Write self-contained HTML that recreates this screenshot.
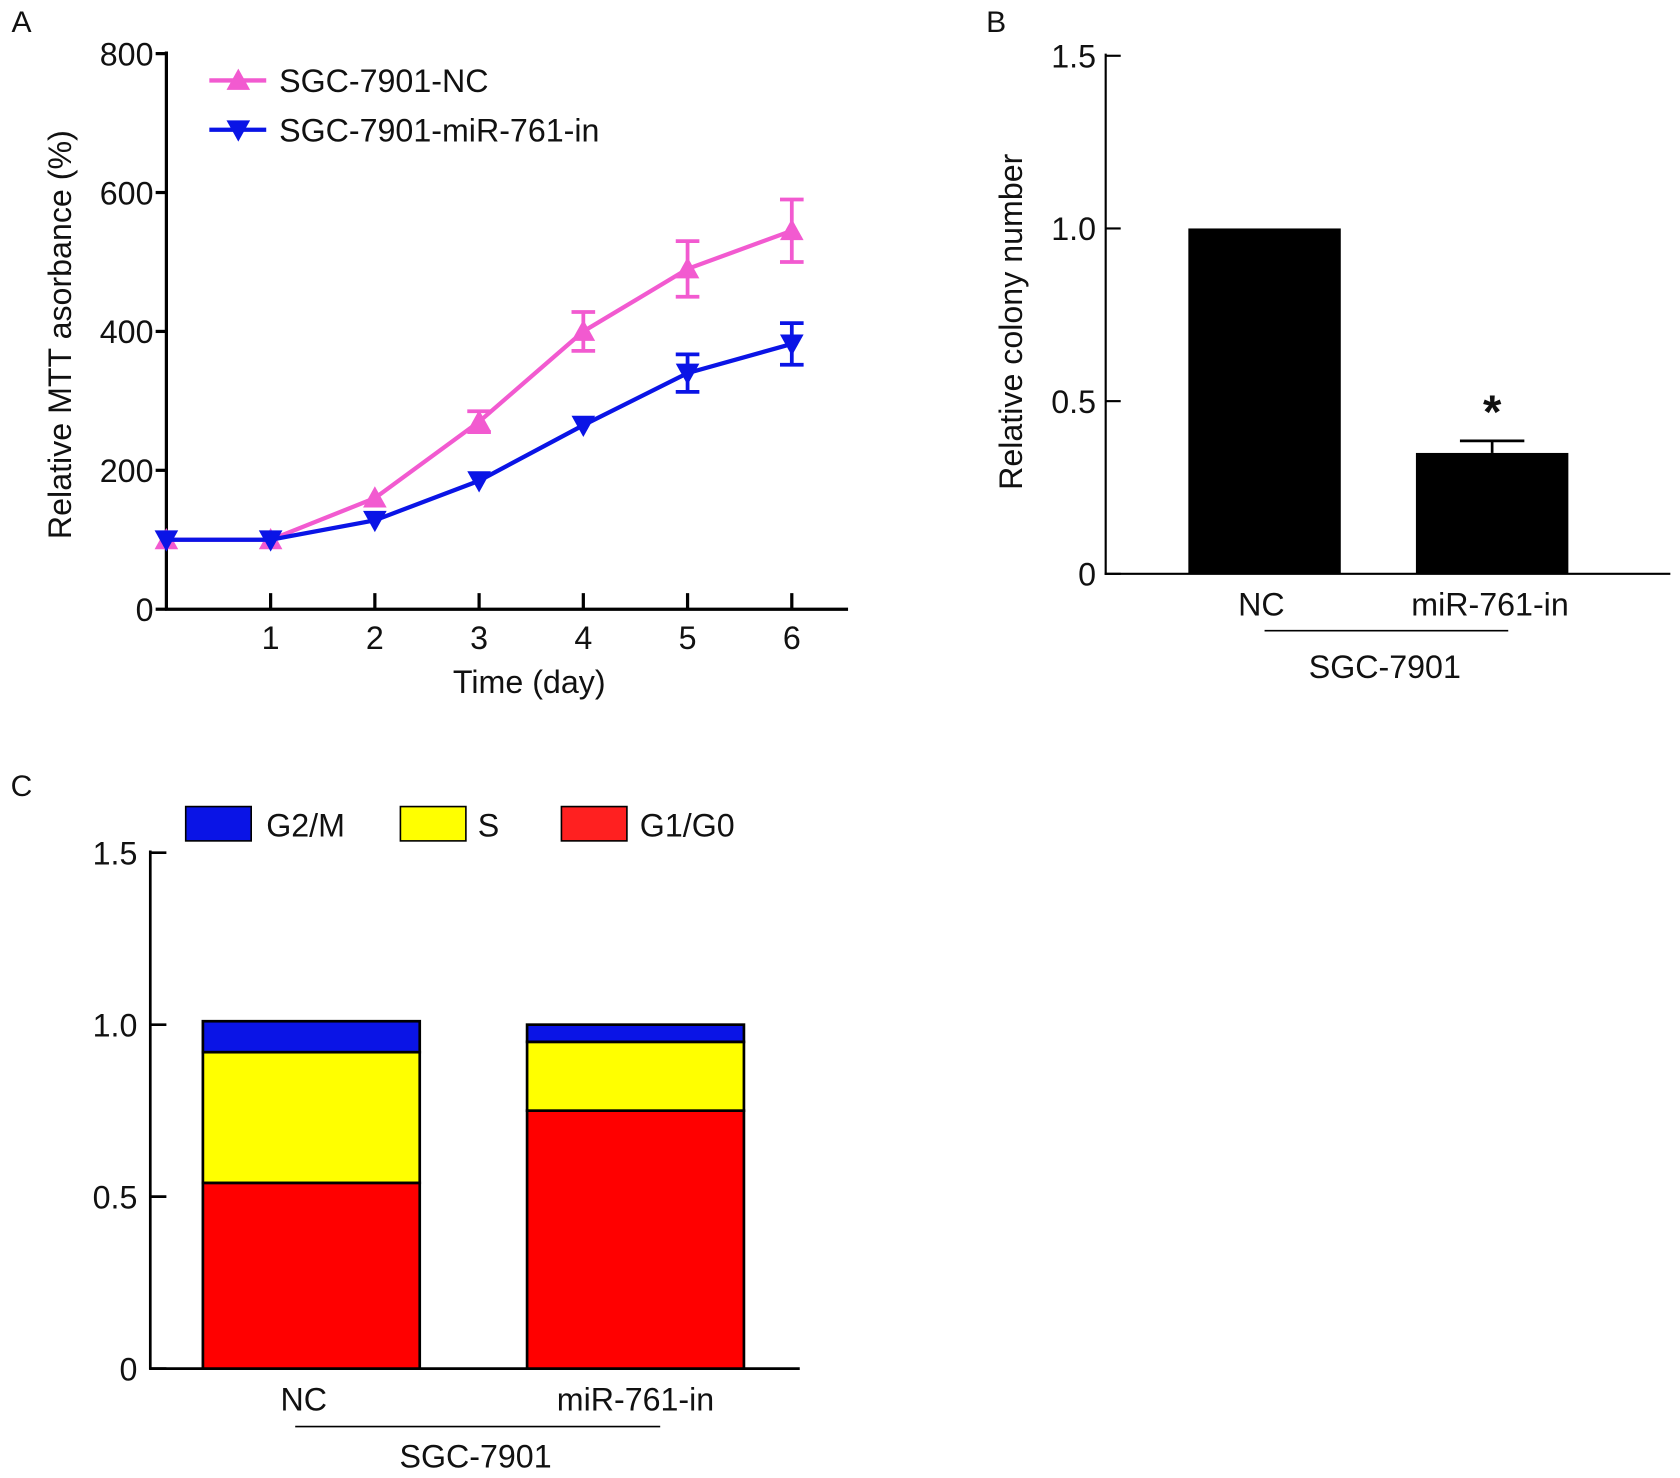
<!DOCTYPE html>
<html><head><meta charset="utf-8"><style>
html,body{margin:0;padding:0;background:#fff;}
svg{display:block;font-family:"Liberation Sans",Arial,sans-serif;}
</style></head><body>
<svg id="fig" width="1680" height="1478" viewBox="0 0 1565 1378" preserveAspectRatio="none" xmlns="http://www.w3.org/2000/svg"></svg>
<script>
// Panel A data
const days=[0,1,2,3,4,5,6];
const ncVals=[100,100,160,270,400,490,545];
const ncErr=[0,0,0,15,28,40,45];
const miVals=[100,100,128,185,265,340,382];
const miErr=[0,0,0,0,0,27,30];
const aYTicks=[0,200,400,600,800];
const aXTicks=[1,2,3,4,5,6];
// Panel B data
const bCats=["NC","miR-761-in"];
const bVals=[1.0,0.35];
const bErr=[0,0.035];
const bYTicks=[0,0.5,1.0,1.5];
const bTickLabels=["0","0.5","1.0","1.5"];
// Panel C data
const cCats=["NC","miR-761-in"];
const cG1=[0.54,0.75];
const cS=[0.38,0.20];
const cG2=[0.09,0.05];
const cYTicks=[0,0.5,1.0,1.5];

const FS=30;
const svg=document.getElementById('fig');
const NS="http://www.w3.org/2000/svg";
function mk(tag,attrs,parent){const e=document.createElementNS(NS,tag);for(const k in attrs)e.setAttribute(k,attrs[k]);(parent||svg).appendChild(e);return e;}
function txt(s,x,y,size,anchor,parent,rot){const t=mk('text',{x:x,y:y,'font-size':size,'text-anchor':anchor||'middle',fill:'#111'},parent);if(rot)t.setAttribute('transform','rotate(-90 '+x+' '+y+')');t.textContent=s;return t;}

// ---------- Panel A ----------
const gA=mk('g',{});


const ax=d=>155+d*97.1;
const ay=v=>568-v*(518/800);
const pl=txt('A',20,30,28,'middle',gA);
mk('line',{x1:155,y1:48,x2:155,y2:569,stroke:'#000','stroke-width':3},gA);
mk('line',{x1:154,y1:568,x2:790,y2:568,stroke:'#000','stroke-width':3},gA);
aYTicks.forEach(v=>{mk('line',{x1:145,y1:ay(v),x2:155,y2:ay(v),stroke:'#000','stroke-width':3},gA);
 const t=txt(String(v),143,ay(v)+11,FS,'end',gA);});
aXTicks.forEach(d=>{mk('line',{x1:ax(d),y1:553,x2:ax(d),y2:568,stroke:'#000','stroke-width':3},gA);
 const t=txt(String(d),ax(d),605,FS,'middle',gA);});
let t=txt('Time (day)',493,646,FS,'middle',gA);
t=txt('Relative MTT asorbance (%)',66,312,FS,'middle',gA,true);
function tri(x,y,up,col,parent){const s=11;const p=up?`${x},${y-s} ${x-s},${y+s*0.8} ${x+s},${y+s*0.8}`:`${x},${y+s} ${x-s},${y-s*0.8} ${x+s},${y-s*0.8}`;return mk('polygon',{points:p,fill:col},parent);}
function series(vals,err,col,up,name){
 const g=mk('g',{},gA);
 
 
 mk('polyline',{points:days.map((d,i)=>ax(d)+','+ay(vals[i])).join(' '),fill:'none',stroke:col,'stroke-width':4},g);
 days.forEach((d,i)=>{
  if(err[i]>0){const x=ax(d),y1=ay(vals[i]+err[i]),y2=ay(vals[i]-err[i]);
   mk('line',{x1:x,y1:y1,x2:x,y2:y2,stroke:col,'stroke-width':3.5},g);
   mk('line',{x1:x-11,y1:y1,x2:x+11,y2:y1,stroke:col,'stroke-width':3.5},g);
   mk('line',{x1:x-11,y1:y2,x2:x+11,y2:y2,stroke:col,'stroke-width':3.5},g);}
  const m=tri(ax(d),ay(vals[i]),up,col,g);
  
  
 });
}
series(ncVals,ncErr,'#f25ad0',true,'series-sgc-7901-nc');
series(miVals,miErr,'#0a14e6',false,'series-sgc-7901-mir-761-in');
let lg=mk('g',{},gA);
mk('line',{x1:195,y1:75,x2:248,y2:75,stroke:'#f25ad0','stroke-width':4},lg);tri(222,75,true,'#f25ad0',lg);txt('SGC-7901-NC',260,86,FS,'start',lg);
lg=mk('g',{},gA);
mk('line',{x1:195,y1:121,x2:248,y2:121,stroke:'#0a14e6','stroke-width':4},lg);tri(222,121,false,'#0a14e6',lg);txt('SGC-7901-miR-761-in',260,132,FS,'start',lg);

// ---------- Panel B ----------
const gB=mk('g',{});


const by=v=>535-v*(483/1.5);
const bx=[1178,1390];
t=txt('B',928,30,28,'middle',gB);
mk('line',{x1:1030,y1:50,x2:1030,y2:536,stroke:'#000','stroke-width':2},gB);
mk('line',{x1:1029,y1:535,x2:1556,y2:535,stroke:'#000','stroke-width':2},gB);
bYTicks.forEach((v,i)=>{mk('line',{x1:1030,y1:by(v),x2:1044,y2:by(v),stroke:'#000','stroke-width':2},gB);
 const tt=txt(bTickLabels[i],1021,by(v)+11,FS,'end',gB);});
bCats.forEach((c,i)=>{
 const r=mk('rect',{x:bx[i]-71,y:by(bVals[i]),width:142,height:by(0)-by(bVals[i]),fill:'#000'},gB);
 
 
 if(bErr[i]>0){const ye=by(bVals[i]+bErr[i]);mk('line',{x1:bx[i],y1:ye,x2:bx[i],y2:by(bVals[i]),stroke:'#000','stroke-width':2.5},gB);mk('line',{x1:bx[i]-30,y1:ye,x2:bx[i]+30,y2:ye,stroke:'#000','stroke-width':2.5},gB);
  const a=txt('*',bx[i],ye-12,44,'middle',gB);a.setAttribute('font-weight','bold');}
 const l=txt(c,i?1388:1175,574,FS,'middle',gB);
});
mk('line',{x1:1178,y1:588,x2:1405,y2:588,stroke:'#000','stroke-width':1.5},gB);
t=txt('SGC-7901',1290,632,FS,'middle',gB);
t=txt('Relative colony number',952,300,FS,'middle',gB,true);

// ---------- Panel C ----------
const gC=mk('g',{});


const cy=v=>1276-v*(481/1.5);
const cx=[290,592];
t=txt('C',20,742,28,'middle',gC);
mk('line',{x1:140,y1:793,x2:140,y2:1277,stroke:'#000','stroke-width':2.5},gC);
mk('line',{x1:139,y1:1276,x2:745,y2:1276,stroke:'#000','stroke-width':2.5},gC);
cYTicks.forEach(v=>{mk('line',{x1:140,y1:cy(v),x2:155,y2:cy(v),stroke:'#000','stroke-width':2.5},gC);
 const tt=txt(v===0?'0':v.toFixed(1),128,cy(v)+11,FS,'end',gC);});
cCats.forEach((c,i)=>{
 const segs=[[cG1[i],'#ff0000','g1-g0'],[cS[i],'#ffff00','s'],[cG2[i],'#0a14e6','g2-m']];
 let base=0;
 segs.forEach(s=>{const r=mk('rect',{x:cx[i]-101,y:cy(base+s[0]),width:202,height:cy(base)-cy(base+s[0]),fill:s[1],stroke:'#000','stroke-width':2.5},gC);
  
  
  base+=s[0];});
 const l=txt(c,i?592:283,1315,FS,'middle',gC);
});
mk('line',{x1:275,y1:1330,x2:615,y2:1330,stroke:'#000','stroke-width':1.5},gC);
t=txt('SGC-7901',443,1368,FS,'middle',gC);
[['G2/M','#0a14e6',173,248],['S','#ffff00',373,445],['G1/G0','#ff2020',523,596]].forEach(e=>{
 const g=mk('g',{},gC);
 
 
 mk('rect',{x:e[2],y:752,width:61,height:32,fill:e[1],stroke:'#000','stroke-width':1.5},g);
 txt(e[0],e[3],780,FS,'start',g);
});
</script>
</body></html>
